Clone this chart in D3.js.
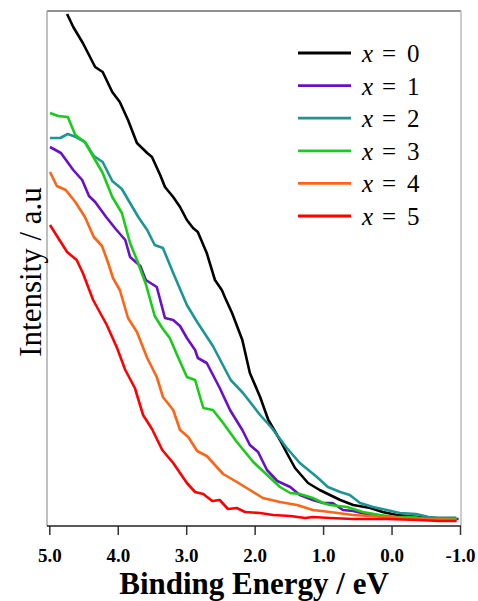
<!DOCTYPE html>
<html>
<head>
<meta charset="utf-8">
<script src="https://cdnjs.cloudflare.com/ajax/libs/d3/7.8.5/d3.min.js"></script>
<style>
  body { margin: 0; background: #fff; }
  svg { display: block; }
  text { font-family: "Liberation Serif", Tinos, "Noto Serif", "Noto Serif CJK SC", "Nimbus Roman", FreeSerif, "DejaVu Serif", serif; }
</style>
</head>
<body>
<div id="vis"></div>
<script>
var width = 478;
var height = 601;

var margin = {top: 11, right: 17, bottom: 75, left: 47};

var series_names = ["0", "1", "2", "3", "4", "5"];
var series_colors = ["#000000", "#6a0fc8", "#1a9696", "#18cc18", "#ff6414", "#ff0000"];
var x_ticks = [5, 4, 3, 2, 1, 0, -1];

// [binding energy (eV), intensity (a.u.)]
var spec_x0 = [[4.74,101.4],[4.65,98.8],[4.51,95.6],[4.33,90.8],[4.22,89.8],[4.08,85.8],[3.97,83.8],
  [3.85,80.2],[3.72,75.6],[3.57,73.6],[3.50,72.8],[3.38,69.2],[3.31,66.8],[3.19,64.8],[3.09,62.8],
  [2.99,60.2],[2.90,58.6],[2.83,57.8],[2.70,53.6],[2.58,48.2],[2.48,46.2],[2.43,44.6],[2.33,41.6],
  [2.18,36.2],[2.07,29.6],[1.92,24.8],[1.80,20.2],[1.63,16.2],[1.53,13.6],[1.41,10.6],[1.22,7.6],
  [1.05,6.2],[0.90,5.2],[0.75,4.2],[0.56,3.2],[0.31,2.6],[0.13,1.8],[-0.08,1.2],[-0.40,0.8],
  [-0.64,0.6],[-0.94,0.6]];
var spec_x1 = [[4.99,74.8],[4.83,73.6],[4.65,70.2],[4.52,68.2],[4.42,65.0],[4.33,63.8],[4.17,60.8],
  [4.03,58.4],[3.89,56.2],[3.82,52.8],[3.67,51.0],[3.59,48.2],[3.43,46.8],[3.31,40.6],[3.19,40.2],
  [3.09,39.0],[2.99,36.6],[2.87,34.2],[2.83,32.6],[2.70,31.6],[2.51,26.6],[2.36,22.2],[2.18,18.2],
  [2.07,15.2],[1.95,13.8],[1.82,10.2],[1.67,8.0],[1.48,6.8],[1.34,5.2],[1.15,4.2],[1.00,3.6],
  [0.86,3.6],[0.71,2.2],[0.56,2.0],[0.31,1.2],[-0.16,0.6],[-0.54,0.4],[-0.98,0.4]];
var spec_x2 = [[4.99,76.6],[4.84,76.6],[4.73,77.4],[4.61,76.8],[4.48,75.8],[4.35,73.0],[4.22,71.8],
  [4.08,68.0],[3.94,66.4],[3.82,63.6],[3.70,60.8],[3.57,58.2],[3.46,55.2],[3.34,54.6],[3.19,49.6],
  [2.99,43.2],[2.84,39.8],[2.61,35.0],[2.35,28.2],[2.17,25.6],[1.92,21.2],[1.75,18.6],[1.53,14.6],
  [1.34,11.6],[1.09,8.8],[0.93,6.8],[0.75,5.8],[0.61,5.2],[0.46,3.6],[0.27,2.8],[0.07,2.2],
  [-0.12,1.6],[-0.36,1.4],[-0.54,0.8],[-0.69,0.6],[-0.95,0.6]];
var spec_x3 = [[4.99,81.6],[4.87,81.0],[4.73,80.8],[4.62,77.2],[4.48,75.8],[4.33,72.2],[4.22,69.6],
  [4.08,64.8],[3.94,61.6],[3.82,55.6],[3.72,52.2],[3.59,47.4],[3.46,41.0],[3.35,38.6],[3.24,36.6],
  [3.12,32.8],[2.99,28.8],[2.87,28.2],[2.75,22.6],[2.61,22.2],[2.46,19.6],[2.26,15.8],[2.02,11.8],
  [1.77,8.6],[1.63,6.8],[1.48,5.6],[1.34,5.4],[1.15,4.6],[1.00,3.6],[0.90,3.2],[0.65,2.8],
  [0.42,1.8],[0.17,1.2],[-0.08,0.8],[-0.31,0.8],[-0.54,0.4],[-0.95,0.4]];
var spec_x4 = [[4.99,69.8],[4.89,67.0],[4.76,66.2],[4.62,63.8],[4.48,60.8],[4.35,56.8],[4.23,55.0],
  [4.14,51.6],[4.07,48.6],[3.97,46.2],[3.85,40.6],[3.72,37.8],[3.57,32.6],[3.43,28.8],[3.34,24.8],
  [3.19,22.2],[3.09,18.2],[2.97,16.8],[2.84,14.0],[2.70,13.0],[2.46,9.4],[2.26,7.8],[2.07,6.2],
  [1.88,4.6],[1.63,3.8],[1.38,3.2],[1.15,2.2],[0.90,1.8],[0.56,1.2],[0.07,0.8],[-0.40,0.4],
  [-0.95,0.2]];
var spec_x5 = [[4.99,59.2],[4.87,56.6],[4.74,53.8],[4.60,52.2],[4.51,49.6],[4.36,44.2],[4.16,39.2],
  [4.01,34.6],[3.89,30.2],[3.75,26.6],[3.63,21.2],[3.50,18.4],[3.35,14.2],[3.19,11.6],[3.09,9.6],
  [2.99,7.6],[2.87,5.8],[2.75,5.4],[2.62,4.0],[2.51,4.2],[2.39,2.4],[2.26,2.6],[2.14,1.8],
  [1.92,1.6],[1.73,1.2],[1.48,1.0],[1.26,0.6],[1.15,0.8],[0.90,0.6],[0.56,0.4],[0.07,0.4],
  [-0.40,0.2],[-0.69,0.0],[-0.95,0.0]];

var all_spectra = [spec_x0, spec_x1, spec_x2, spec_x3, spec_x4, spec_x5];

var svg = d3.select("#vis").append("svg")
  .attr("width", width)
  .attr("height", height);

var plot_left = margin.left, plot_right = width - margin.right;
var plot_top = margin.top, plot_bottom = height - margin.bottom;

var x_scale = d3.scaleLinear()
  .domain([5, -1])
  .range([plot_left + 2.3, plot_right - 1]);

var y_scale = d3.scaleLinear()
  .domain([-1, 102])
  .range([plot_bottom, plot_top]);

// frame: dark top/bottom, light grey sides
svg.append("line")
  .attr("x1", plot_left).attr("x2", plot_right)
  .attr("y1", plot_top).attr("y2", plot_top)
  .attr("stroke", "#222").attr("stroke-width", 1);
svg.append("line")
  .attr("x1", plot_left).attr("x2", plot_left)
  .attr("y1", plot_top).attr("y2", plot_bottom)
  .attr("stroke", "#aaa").attr("stroke-width", 1.5);
svg.append("line")
  .attr("x1", plot_right).attr("x2", plot_right)
  .attr("y1", plot_top).attr("y2", plot_bottom)
  .attr("stroke", "#bbb").attr("stroke-width", 1.5);

var line_gen = d3.line()
  .x(d => x_scale(d[0]))
  .y(d => y_scale(d[1]));

svg.append("g")
  .selectAll(".spectrum")
  .data(all_spectra)
  .enter()
  .append("path")
  .attr("class", "spectrum")
  .attr("d", line_gen)
  .attr("fill", "none")
  .attr("stroke", (d, i) => series_colors[i])
  .attr("stroke-width", 2.6)
  .attr("stroke-linejoin", "round");

var x_axis = svg.append("g")
  .attr("transform", "translate(0," + plot_bottom + ")")
  .call(d3.axisBottom(x_scale)
    .tickValues(x_ticks)
    .tickSize(9)
    .tickFormat(d => d.toFixed(1)));

x_axis.attr("font-family", null);
x_axis.select(".domain").remove();
x_axis.append("line")
  .attr("x1", plot_left).attr("x2", plot_right)
  .attr("stroke", "#222").attr("stroke-width", 1.5);
x_axis.selectAll(".tick line")
  .attr("stroke", "#333").attr("stroke-width", 1.5);
x_axis.selectAll(".tick text")
  .attr("y", 36)
  .attr("dy", 0)
  .attr("fill", "#000")
  .style("font-weight", "bold")
  .style("font-size", "19px");

svg.append("text")
  .attr("x", (plot_left + plot_right) / 2)
  .attr("y", 594)
  .attr("text-anchor", "middle")
  .style("font-weight", "bold")
  .style("font-size", "31px")
  .text("Binding Energy / eV");

svg.append("text")
  .attr("transform", "translate(41,272) rotate(-90)")
  .attr("text-anchor", "middle")
  .style("font-size", "31px")
  .text("Intensity / a.u");

// legend
var legend = svg.append("g")
  .selectAll(".legend-row")
  .data(series_names)
  .enter()
  .append("g")
  .attr("class", "legend-row")
  .attr("transform", (d, i) => "translate(0," + (53 + i * 32.6) + ")");

legend.append("line")
  .attr("x1", 298).attr("x2", 351)
  .attr("stroke", (d, i) => series_colors[i])
  .attr("stroke-width", 2.8);

legend.append("text")
  .attr("x", 362).attr("y", 9)
  .style("font-style", "italic")
  .style("font-size", "25px")
  .text("x");

legend.append("text")
  .attr("x", 382).attr("y", 9)
  .style("font-size", "25px")
  .text("=");

legend.append("text")
  .attr("x", 407).attr("y", 9)
  .style("font-size", "25px")
  .text(d => d);
</script>
</body>
</html>
